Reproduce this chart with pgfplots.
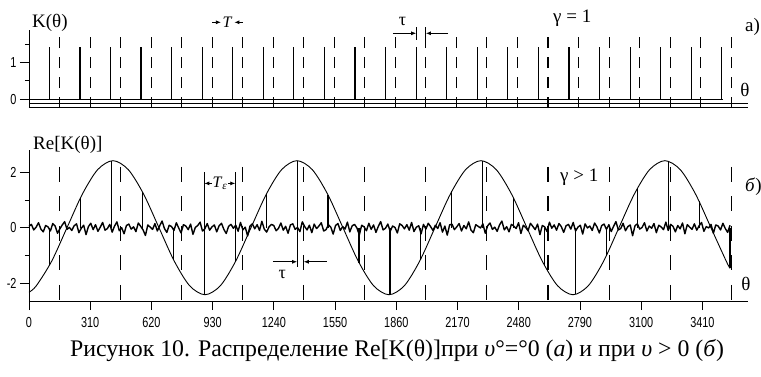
\documentclass[border=0pt]{standalone}
\usepackage{fontspec}
\setmainfont{Liberation Serif}
\newfontfamily\narrow[FakeStretch=0.75]{Liberation Sans}
\usepackage{pgfplots}
\usepackage{pgfplotstable}
\pgfplotsset{compat=1.18}
\usetikzlibrary{arrows.meta}

\pgfplotstableread[row sep=\\]{
y\\
0.05\\0.12\\-0.08\\0.02\\0.18\\-0.05\\-0.15\\0.08\\0.03\\-0.12\\0.15\\0.06\\-0.20\\-0.04\\0.10\\0.22\\-0.06\\0.01\\-0.10\\0.07\\
0.14\\-0.18\\-0.02\\0.09\\-0.25\\0.04\\0.16\\-0.07\\0.11\\-0.13\\0.02\\0.19\\-0.09\\-0.03\\0.12\\-0.16\\0.06\\0.21\\-0.11\\0.00\\
-0.22\\0.08\\0.13\\-0.05\\0.03\\-0.14\\0.17\\0.05\\-0.08\\-0.28\\0.10\\0.02\\-0.06\\0.15\\-0.12\\0.07\\0.24\\-0.03\\-0.17\\0.09\\
0.04\\-0.10\\0.18\\-0.01\\-0.19\\0.11\\0.06\\-0.07\\0.13\\-0.24\\0.01\\0.08\\0.20\\-0.12\\-0.04\\0.15\\-0.09\\0.03\\0.10\\-0.15\\
0.07\\0.16\\-0.06\\-0.21\\0.05\\0.12\\-0.02\\0.09\\-0.13\\0.19\\-0.08\\0.02\\-0.30\\0.06\\0.14\\-0.04\\0.11\\-0.10\\0.23\\-0.05\\
-0.16\\0.03\\0.12\\0.08\\-0.11\\-0.02\\0.17\\-0.09\\0.05\\-0.20\\0.10\\0.14\\-0.06\\0.01\\-0.14\\0.21\\0.04\\-0.08\\0.09\\-0.18\\
0.13\\-0.03\\0.06\\0.18\\-0.12\\-0.07\\0.11\\0.02\\-0.23\\0.08\\0.15\\-0.10\\0.04\\-0.05\\0.20\\-0.15\\0.07\\0.12\\-0.01\\-0.26\\
0.09\\0.03\\-0.11\\0.16\\-0.06\\0.10\\-0.17\\0.05\\0.22\\-0.08\\-0.02\\0.13\\-0.13\\0.06\\0.01\\-0.19\\0.14\\0.08\\-0.04\\0.11\\
-0.09\\0.19\\-0.14\\0.02\\0.07\\-0.22\\0.12\\-0.05\\0.16\\0.04\\-0.10\\0.09\\-0.03\\0.18\\-0.16\\0.06\\-0.27\\0.10\\0.13\\-0.07\\
0.03\\0.15\\-0.12\\0.08\\-0.04\\0.21\\-0.09\\-0.18\\0.11\\0.05\\-0.01\\0.14\\-0.20\\0.07\\0.17\\-0.06\\0.02\\-0.13\\0.10\\0.24\\
-0.08\\0.04\\-0.15\\0.12\\0.06\\-0.03\\0.18\\-0.21\\0.09\\0.01\\-0.11\\0.16\\0.05\\-0.07\\0.13\\-0.25\\0.08\\0.03\\-0.14\\0.20\\
-0.02\\0.10\\-0.09\\0.15\\0.04\\-0.17\\0.07\\0.12\\-0.05\\0.19\\-0.12\\0.02\\0.09\\-0.23\\0.14\\-0.01\\0.06\\-0.10\\0.17\\0.03\\
-0.19\\0.08\\0.13\\-0.06\\0.11\\-0.14\\0.05\\0.22\\-0.08\\-0.03\\0.16\\-0.11\\0.04\\0.10\\-0.29\\0.07\\0.14\\-0.05\\0.01\\0.18\\
-0.12\\0.06\\-0.02\\0.15\\-0.18\\0.09\\0.03\\-0.07\\0.20\\-0.10\\0.12\\0.05\\-0.15\\0.08\\-0.04\\0.17\\-0.22\\0.11\\0.02\\-0.06\\
0.14\\-0.09\\0.07\\0.19\\-0.13\\0.04\\-0.01\\0.12\\-0.20\\0.10\\0.06\\-0.08\\0.16\\-0.03\\-0.17\\0.09\\
}\noisetable

\pgfplotsset{
  common/.style={
    scale only axis, width=718.8pt, xmin=0, xmax=3640,
    axis x line=bottom, axis y line=left,
    axis line style={-, line width=0.9pt, black},
    tick align=outside, major tick length=9pt, minor tick length=4pt,
    tick style={line width=0.9pt, black},
    ticklabel style={font=\narrow\fontsize{14.5}{14.5}\selectfont},
    /pgf/number format/assume math mode=true,
    /pgf/number format/1000 sep={},
    clip=false,
  },
}
\tikzset{arr/.style={-{Latex[length=5pt,width=4pt]}, line width=0.8pt}}

\begin{document}
\begin{tikzpicture}
\useasboundingbox (0,0) rectangle (761pt,376pt);

% ---------------- top panel (a)
\begin{axis}[common, at={(29pt,268.7pt)}, anchor=south west,
  height=77.3pt, ymin=-0.22, ymax=1.89,
  xtick=\empty, ytick={0,1}, minor ytick={0.5,1.5}]
\addplot[black, line width=0.9pt] coordinates {(0,0) (3512,0)};
\addplot[black, ycomb, line width=1.2pt] coordinates {
(103,1.42) (257.8,1.42) (412.6,1.42) (567.4,1.42) (722.2,1.42) (877,1.42)
(1031.8,1.42) (1186.6,1.42) (1341.4,1.42) (1496.2,1.42) (1651,1.42) (1805.8,1.42)
(1960.6,1.42) (2115.4,1.42) (2270.2,1.42) (2425,1.42) (2579.8,1.42) (2734.6,1.42)
(2889.4,1.42) (3044.2,1.42) (3199,1.42) (3353.8,1.42) (3508.6,1.42)};
\draw[line width=0.9pt] (axis cs:0,-0.11) -- (axis cs:3640,-0.11);
\pgfplotsinvokeforeach{154.6,309.2,463.8,618.4,773,927.6,1082.2,1236.8,1391.4,1546,1700.6,1855.2,2009.8,2164.4,2319,2473.6,2628.2,2782.8,2937.4,3092,3246.6,3401.2,3555.8}{
  \draw[line width=1.1pt, dash pattern=on 11pt off 9pt] (axis cs:#1,-0.24) -- (axis cs:#1,1.81);
}
% T
\draw[arr] (axis cs:927.6,2.1) -- (axis cs:972,2.1);
\draw[arr] (axis cs:1082.2,2.1) -- (axis cs:1040,2.1);
\node[font=\fontsize{16}{16}\selectfont] at (axis cs:1005,2.1) {\textit{T}};
% tau
\draw[line width=0.8pt] (axis cs:1960.6,1.62) -- (axis cs:1960.6,1.98);
\draw[line width=0.8pt] (axis cs:2009.8,1.62) -- (axis cs:2009.8,1.98);
\draw[arr] (axis cs:1843,1.8) -- (axis cs:1960.6,1.8);
\draw[arr] (axis cs:2122,1.8) -- (axis cs:2009.8,1.8);
\node[font=\fontsize{18}{18}\selectfont] at (axis cs:1891,2.13) {τ};
\end{axis}

% ---------------- bottom panel (b)
\begin{axis}[common, at={(29pt,75pt)}, anchor=south west,
  height=151pt, ymin=-2.646, ymax=2.805,
  xtick={0,310,620,930,1240,1550,1860,2170,2480,2790,3100,3410},
  ytick={-2,0,2}, minor ytick={-1,1},
  xticklabel style={yshift=-4pt}]
\pgfplotsinvokeforeach{154.6,463.8,773,1082.2,1391.4,1700.6,2009.8,2319,2628.2,2937.4,3246.6,3555.8}{
  \draw[line width=1.1pt, dash pattern=on 15pt off 14.5pt] (axis cs:#1,2.2) -- (axis cs:#1,-2.646);
}
\addplot[black, line width=1.4pt, line join=round] table[x expr=\coordindex*12.034, y=y] {\noisetable};
\addplot[black, line width=0.9pt, smooth] coordinates {
(0,-2.33) (37.1,-2.096) (114.7,-1.21) (192.4,0) (270.0,1.21) (347.7,2.096)
(425.3,2.42) (502.9,2.096) (580.6,1.21) (658.2,0) (735.9,-1.21) (813.5,-2.096)
(891.1,-2.42) (968.8,-2.096) (1046.4,-1.21) (1124.1,0) (1201.7,1.21) (1279.3,2.096)
(1357.0,2.42) (1434.6,2.096) (1512.3,1.21) (1589.9,0) (1667.5,-1.21) (1745.2,-2.096)
(1822.8,-2.42) (1900.5,-2.096) (1978.1,-1.21) (2055.7,0) (2133.4,1.21) (2211.0,2.096)
(2288.7,2.42) (2366.3,2.096) (2443.9,1.21) (2521.6,0) (2599.2,-1.21) (2676.9,-2.096)
(2754.5,-2.42) (2832.1,-2.096) (2909.8,-1.21) (2987.4,0) (3065.1,1.21) (3142.7,2.096)
(3220.3,2.42) (3298.0,2.096) (3375.6,1.21) (3453.3,0) (3530.9,-1.21) (3550,-1.47)};
\addplot[black, ycomb, line width=1.2pt] coordinates {
(105,-1.344) (261.6,1.089) (418.2,2.417) (574.8,1.291) (731.4,-1.147) (888,-2.419)
(1044.6,-1.236) (1201.2,1.203) (1357.8,2.42) (1514.4,1.180) (1671,-1.259) (1827.6,-2.419)
(1984.2,-1.123) (2140.8,1.313) (2297.4,2.416) (2454,1.065) (2610.6,-1.367) (2767.2,-2.411)
(2923.8,-1.007) (3080.4,1.420) (3237,2.405) (3393.6,0.948) (3550.2,-1.472)};
% T_epsilon
\draw[line width=1.1pt] (axis cs:888,0) -- (axis cs:888,2.02);
\draw[line width=1.1pt] (axis cs:1044.6,0) -- (axis cs:1044.6,2.02);
\draw[arr] (axis cs:925,1.6) -- (axis cs:888,1.6);
\draw[arr] (axis cs:1008,1.6) -- (axis cs:1044.6,1.6);
\node[font=\fontsize{16}{16}\selectfont, inner sep=0] at (axis cs:967,1.6) {\textit{T}\textsubscript{\textit{ε}}};
% tau
\draw[line width=1.1pt] (axis cs:1357.8,0) -- (axis cs:1357.8,-1.42);
\draw[line width=1.1pt] (axis cs:1391.4,-1.08) -- (axis cs:1391.4,-1.40);
\draw[arr] (axis cs:1235.6,-1.23) -- (axis cs:1357.8,-1.23);
\draw[arr] (axis cs:1509,-1.23) -- (axis cs:1391.4,-1.23);
\node[font=\fontsize{18}{18}\selectfont] at (axis cs:1283,-1.67) {τ};
\end{axis}

% ---------------- labels
\begin{scope}[every node/.style={inner sep=0pt, font=\fontsize{19}{19}\selectfont}]
\node[anchor=base west] at (32pt,348.7pt) {K(θ)};
\node[anchor=base west] at (33pt,226.7pt) {Re[K(θ)]};
\node[anchor=base west] at (553pt,353.3pt) {γ = 1};
\node[anchor=base west] at (560pt,194.3pt) {γ > 1};
\node[anchor=base west] at (745pt,344.3pt) {a)};
\node[anchor=base west] at (745pt,184.3pt) {\textit{б})};
\node[anchor=base] at (745pt,279.3pt) {θ};
\node[anchor=base] at (746pt,86pt) {θ};
\end{scope}
\node[anchor=base, inner sep=0pt, font=\fontsize{23.8}{28}\selectfont] at (397pt,19.3pt)
  {Рисунок 10. Распределение Re[K(θ)]при \textit{υ}°=°0 (\textit{а}) и при \textit{υ} > 0 (\textit{б})};
\end{tikzpicture}
\end{document}
